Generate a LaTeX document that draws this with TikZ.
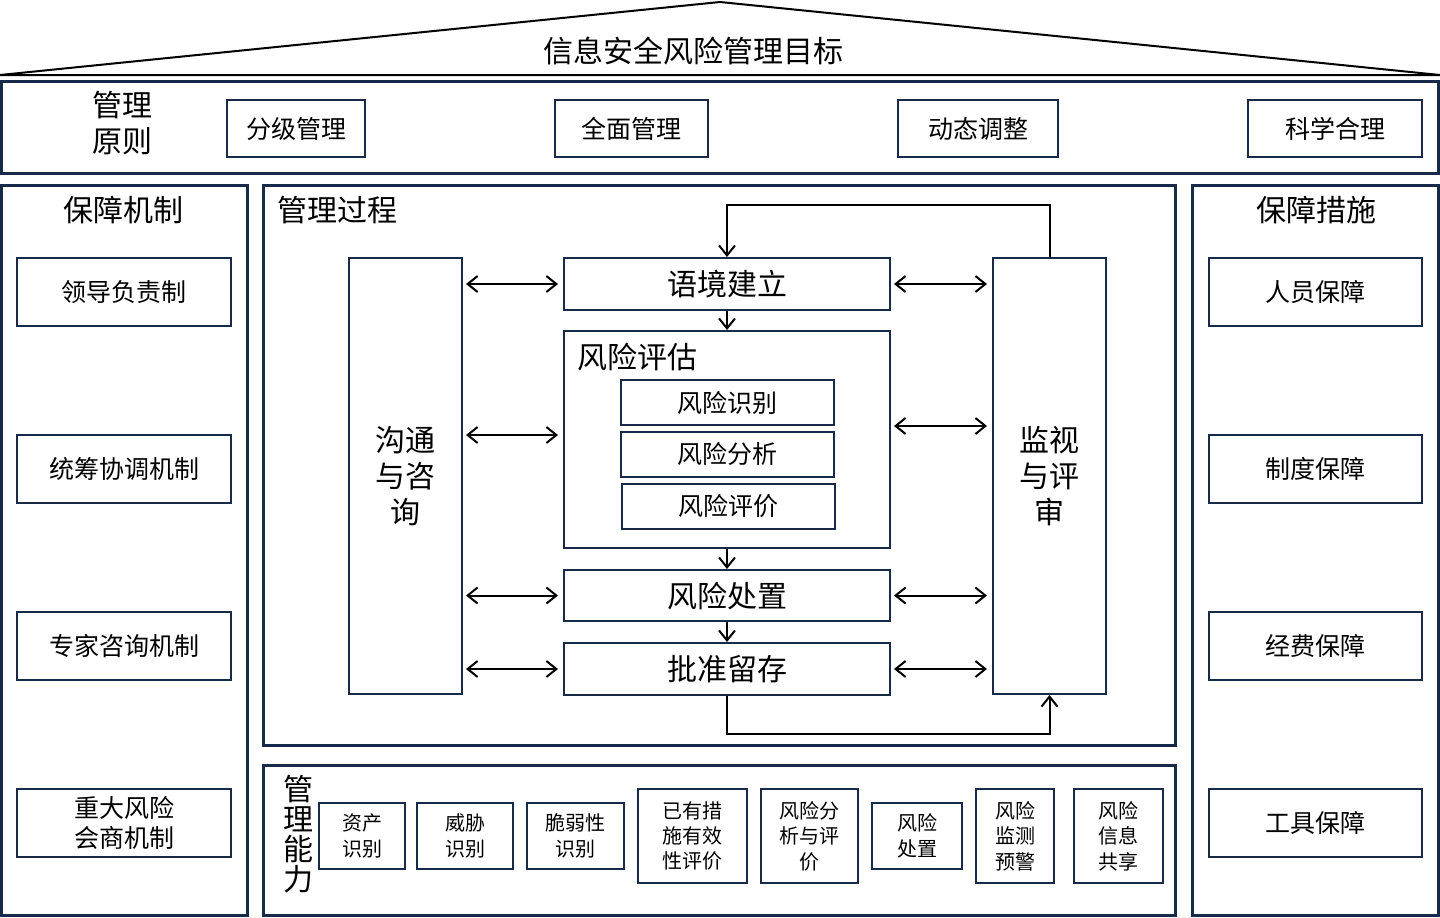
\documentclass[tikz,border=0pt]{standalone}
\usepackage{fontspec}
\setmainfont{Noto Sans CJK SC}
\usetikzlibrary{arrows.meta}
\definecolor{navy}{RGB}{24,42,74}

\begin{document}
\begin{tikzpicture}[x=0.5pt,y=-0.5pt]
\tikzstyle{box}=[draw=navy,line width=1pt,inner sep=0pt,align=center]
\tikzstyle{frame}=[draw=navy,line width=1.5pt]
\tikzstyle{txtbig}=[font=\fontsize{15pt}{18pt}\selectfont]
\tikzstyle{txtmid}=[font=\fontsize{12.5pt}{15pt}\selectfont]
\tikzstyle{txtsmall}=[font=\fontsize{10pt}{12.7pt}\selectfont]
\tikzstyle{arr}=[-{Straight Barb[length=5pt,width=8pt]},line width=1pt]
\tikzstyle{dbl}=[{Straight Barb[length=5pt,width=8pt]}-{Straight Barb[length=5pt,width=8pt]},line width=1pt,shorten <=1.5pt,shorten >=2.5pt]
\useasboundingbox (0,0) rectangle (1440,917);

% roof
\draw[line width=1pt] (0,75) -- (720,2) -- (1440,75) -- cycle;
\node[txtbig] (goal) at (693,51) {信息安全风险管理目标};

% principles
\draw[frame] (1,81) rectangle (1438,173);
\node[txtbig,align=center] (yuanze) at (122,123) {管理\\原则};
\node[box,txtmid,minimum width=69pt,minimum height=28.5pt] (fenji) at (296,128.5) {分级管理};
\node[box,txtmid,minimum width=76.5pt,minimum height=28.5pt] (quanmian) at (631.5,128.5) {全面管理};
\node[box,txtmid,minimum width=80pt,minimum height=28.5pt] (dongtai) at (978,128.5) {动态调整};
\node[box,txtmid,minimum width=87pt,minimum height=28.5pt] (kexue) at (1335,128.5) {科学合理};

% mechanisms
\draw[frame] (1,185) rectangle (247,915);
\node[txtbig] (jizhi) at (123,210) {保障机制};
\node[box,txtmid,minimum width=107pt,minimum height=34pt] (lingdao) at (124,292) {领导负责制};
\node[box,txtmid,minimum width=107pt,minimum height=34pt] (tongchou) at (124,469) {统筹协调机制};
\node[box,txtmid,minimum width=107pt,minimum height=34pt] (zhuanjia) at (124,646) {专家咨询机制};
\node[box,txtmid,minimum width=107pt,minimum height=34pt] (zhongda) at (124,823) {重大风险\\会商机制};

% measures
\draw[frame] (1192,185) rectangle (1438,915);
\node[txtbig] (cuoshi) at (1316,210) {保障措施};
\node[box,txtmid,minimum width=106.5pt,minimum height=34pt] (renyuan) at (1315.5,292) {人员保障};
\node[box,txtmid,minimum width=106.5pt,minimum height=34pt] (zhidu) at (1315.5,469) {制度保障};
\node[box,txtmid,minimum width=106.5pt,minimum height=34pt] (jingfei) at (1315.5,646) {经费保障};
\node[box,txtmid,minimum width=106.5pt,minimum height=34pt] (gongju) at (1315.5,823) {工具保障};

% process
\draw[frame] (263,185) rectangle (1175,745);
\node[txtbig,anchor=west] (guocheng) at (270,210) {管理过程};
\node[box,txtbig,minimum width=56.5pt,minimum height=218pt] (goutong) at (405.5,476) {沟通\\与咨\\询};
\node[box,txtbig,minimum width=56.5pt,minimum height=218pt] (jianshi) at (1049.5,476) {监视\\与评\\审};
\node[box,txtbig,minimum width=163pt,minimum height=26pt] (yujing) at (727,284) {语境建立};
\node[box,minimum width=163pt,minimum height=108.5pt] (pinggu) at (727,439.5) {};
\node[txtbig,anchor=west] (pinggutitle) at (570,357) {风险评估};
\node[box,txtmid,minimum width=106.5pt,minimum height=22.5pt] (shibie) at (727.5,402.5) {风险识别};
\node[box,txtmid,minimum width=106.5pt,minimum height=22.5pt] (fenxi) at (727.5,454) {风险分析};
\node[box,txtmid,minimum width=106.5pt,minimum height=22.5pt] (pingjia) at (728,506) {风险评价};
\node[box,txtbig,minimum width=163pt,minimum height=25.5pt] (chuzhi) at (727,595.5) {风险处置};
\node[box,txtbig,minimum width=163pt,minimum height=26pt] (pizhun) at (727,669) {批准留存};

\draw[arr] (yujing) -- (pinggu);
\draw[arr] (pinggu) -- (chuzhi);
\draw[arr] (chuzhi) -- (pizhun);
\draw[arr] (jianshi.north) -- ++(0,-52) -| (yujing.north);
\draw[arr] (pizhun.south) -- ++(0,38) -| (jianshi.south);

\draw[dbl] (goutong.east |- yujing) -- (yujing.west);
\draw[dbl] (goutong.east |- 0,435) -- (pinggu.west |- 0,435);
\draw[dbl] (goutong.east |- chuzhi) -- (chuzhi.west);
\draw[dbl] (goutong.east |- pizhun) -- (pizhun.west);
\draw[dbl] (yujing.east) -- (jianshi.west |- yujing);
\draw[dbl] (pinggu.east |- 0,426) -- (jianshi.west |- 0,426);
\draw[dbl] (chuzhi.east) -- (jianshi.west |- chuzhi);
\draw[dbl] (pizhun.east) -- (jianshi.west |- pizhun);

% capabilities
\draw[frame] (263,765) rectangle (1175,915);
\node[font=\fontsize{15pt}{15pt}\selectfont,align=center] (nengli) at (298,834) {管\\理\\能\\力};
\node[box,txtsmall,minimum width=43pt,minimum height=33pt] (zichan) at (362,836) {资产\\识别};
\node[box,txtsmall,minimum width=48pt,minimum height=33pt] (weixie) at (465,836) {威胁\\识别};
\node[box,txtsmall,minimum width=48.5pt,minimum height=33pt] (cuiruo) at (575.5,836) {脆弱性\\识别};
\node[box,txtsmall,minimum width=54.5pt,minimum height=47pt] (yiyou) at (692.5,836) {已有措\\施有效\\性评价};
\node[box,txtsmall,minimum width=48.5pt,minimum height=47pt] (fenxipj) at (809.5,836) {风险分\\析与评\\价};
\node[box,txtsmall,minimum width=45pt,minimum height=33pt] (chuzhinl) at (917,836) {风险\\处置};
\node[box,txtsmall,minimum width=39pt,minimum height=47pt] (yujingnl) at (1015,836) {风险\\监测\\预警};
\node[box,txtsmall,minimum width=44.5pt,minimum height=47pt] (gongxiang) at (1118.5,836) {风险\\信息\\共享};
\end{tikzpicture}
\end{document}
